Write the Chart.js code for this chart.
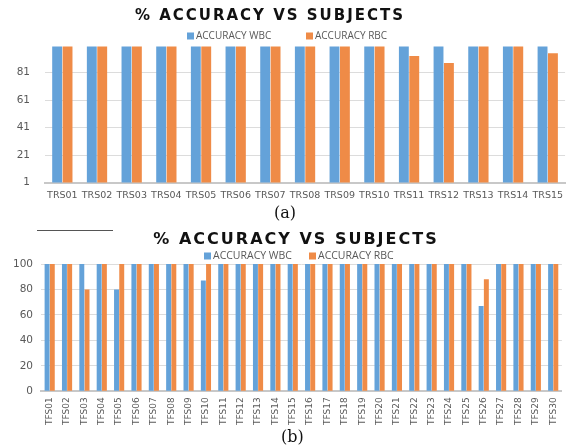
<!DOCTYPE html>
<html>
<head>
<meta charset="utf-8">
<script src="https://cdn.jsdelivr.net/npm/chart.js@4.4.1/dist/chart.umd.min.js"></script>
<style>
  body { margin: 0; background: #fff; }
  #page { position: relative; width: 570px; height: 446px; overflow: hidden; background: #fff; }
  .title { position: absolute; left: 0; width: 540px; text-align: center; font-family: "DejaVu Sans"; font-weight: bold; color: #111; letter-spacing: 2px; }
  .cap { position: absolute; font-family: "DejaVu Serif"; font-size: 16px; color: #111; }
  .box { position: absolute; left: 0; width: 570px; }
  #rule { position: absolute; left: 37px; top: 230px; width: 76px; border-top: 1px solid #555; }
</style>
</head>
<body>
<div id="page">
  <div class="box" style="top:0px;height:208px;"><canvas id="chart-a"></canvas></div>
  <div class="box" style="top:215px;height:216px;"><canvas id="chart-b"></canvas></div>
  <div class="title" style="top:6px;font-size:15px;">% ACCURACY VS SUBJECTS</div>
  <div class="cap" style="left:274px;top:203px;">(a)</div>
  <div id="rule"></div>
  <div class="title" style="top:229px;width:592px;font-size:16px;">% ACCURACY VS SUBJECTS</div>
  <div class="cap" style="left:281px;top:427px;">(b)</div>
</div>
<script>
const seriesNames = ['ACCURACY WBC', 'ACCURACY RBC'];
const colors = ['#64a2d9', '#ef8b47'];

// (a) TRS subjects
const subjectsA = ['TRS01','TRS02','TRS03','TRS04','TRS05','TRS06','TRS07','TRS08','TRS09','TRS10','TRS11','TRS12','TRS13','TRS14','TRS15'];
const wbcA = [100,100,100,100,100,100,100,100,100,100,100,100,100,100,100];
const rbcA = [100,100,100,100,100,100,100,100,100,100,93,88,100,100,95];
const yTicksA = [1,21,41,61,81];

// (b) TFS subjects
const subjectsB = ['TFS01','TFS02','TFS03','TFS04','TFS05','TFS06','TFS07','TFS08','TFS09','TFS10',
  'TFS11','TFS12','TFS13','TFS14','TFS15','TFS16','TFS17','TFS18','TFS19','TFS20',
  'TFS21','TFS22','TFS23','TFS24','TFS25','TFS26','TFS27','TFS28','TFS29','TFS30'];
const wbcB = [100,100,100,100,80,100,100,100,100,87,100,100,100,100,100,100,100,100,100,100,100,100,100,100,100,67,100,100,100,100];
const rbcB = [100,100,80,100,100,100,100,100,100,100,100,100,100,100,100,100,100,100,100,100,100,100,100,100,100,88,100,100,100,100];
const yTicksB = [0,20,40,60,80,100];

const tickColor = '#595959';

// legend drawn on one line at fixed spots, like the excel one
const legendLine = {
    id: 'legendLine',
    afterDraw(chart, args, opts) {
        const ctx = chart.ctx;
        ctx.save();
        ctx.font = opts.size + 'px "Open Sans"';
        ctx.textBaseline = 'middle';
        chart.data.datasets.forEach((ds, i) => {
            const x = opts.xs[i];
            ctx.fillStyle = ds.backgroundColor;
            ctx.fillRect(x, opts.y - 3.5, 7, 7);
            ctx.fillStyle = tickColor;
            ctx.fillText(ds.label, x + 9, opts.y + 0.5);
        });
        ctx.restore();
    }
};

const makeDatasets = (wbc, rbc) => [wbc, rbc].map((d, i) => ({
    label: seriesNames[i],
    data: d,
    backgroundColor: colors[i],
    categoryPercentage: 0.6,
    barPercentage: 0.95
}));

const config_a = {
    type: 'bar',
    data: { labels: subjectsA, datasets: makeDatasets(wbcA, rbcA) },
    plugins: [legendLine],
    options: {
        responsive: true,
        maintainAspectRatio: false,
        animation: false,
        layout: { padding: { left: 0, right: 0, top: 45, bottom: 0 } },
        plugins: {
            tooltip: { enabled: false },
            legend: { display: false },
            legendLine: { xs: [187, 306], y: 36, size: 10 }
        },
        scales: {
            x: {
                grid: { display: false, drawTicks: false },
                border: { color: '#c8c8c8', width: 2 },
                ticks: { color: tickColor, font: { family: 'DejaVu Sans', size: 9.5 }, autoSkip: false, maxRotation: 0, padding: 7 }
            },
            y: {
                min: 1, max: 101,
                afterFit: (s) => { s.width = 45; },
                grid: { color: (c) => yTicksA.includes(c.tick.value) ? '#dcdcdc' : 'rgba(0,0,0,0)', drawTicks: false },
                border: { display: false },
                ticks: {
                    stepSize: 20, padding: 15, color: tickColor,
                    font: { family: 'DejaVu Sans', size: 10.5 },
                    callback: (v) => yTicksA.includes(v) ? v : ''
                }
            }
        }
    }
};

const config_b = {
    type: 'bar',
    data: { labels: subjectsB, datasets: makeDatasets(wbcB, rbcB) },
    plugins: [legendLine],
    options: {
        responsive: true,
        maintainAspectRatio: false,
        animation: false,
        layout: { padding: { left: 0, right: 0, top: 49, bottom: 0 } },
        plugins: {
            tooltip: { enabled: false },
            legend: { display: false },
            legendLine: { xs: [204, 309], y: 41, size: 10.5 }
        },
        scales: {
            x: {
                grid: { display: false, drawTicks: false },
                border: { color: '#c8c8c8', width: 2 },
                ticks: { color: tickColor, font: { family: 'DejaVu Sans', size: 9 }, autoSkip: false, minRotation: 90, maxRotation: 90, padding: 6 }
            },
            y: {
                min: 0, max: 100,
                afterFit: (s) => { s.width = 41; },
                grid: { color: '#dcdcdc', drawTicks: false },
                border: { display: false },
                ticks: {
                    stepSize: 20, padding: 8, color: tickColor,
                    font: { family: 'DejaVu Sans', size: 10.5 },
                    callback: (v) => yTicksB.includes(v) ? v : ''
                }
            }
        }
    }
};

window.onload = function () {
    const a = document.querySelector('#chart-a').getContext('2d');
    const b = document.querySelector('#chart-b').getContext('2d');
    new Chart(a, config_a);
    new Chart(b, config_b);
};
</script>
</body>
</html>
